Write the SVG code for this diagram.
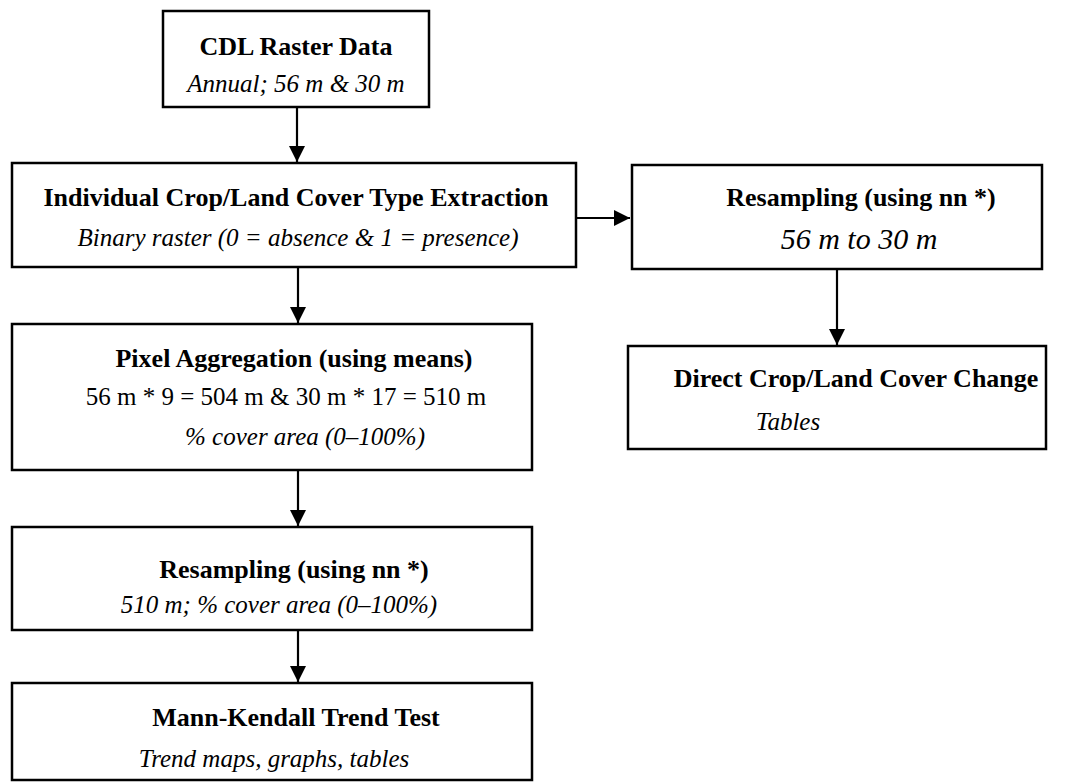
<svg xmlns="http://www.w3.org/2000/svg" width="1077" height="783" viewBox="0 0 1077 783">
<defs>
<marker id="ah" markerUnits="userSpaceOnUse" markerWidth="16" markerHeight="16" viewBox="0 0 16 16" refX="16" refY="8" orient="auto">
<path d="M0,0 L16,8 L0,16 Z" fill="#000"/>
</marker>
<style>
.box{fill:#fff;stroke:#000;stroke-width:2.5}
.t{font-family:"Liberation Serif","Times New Roman",serif;font-weight:bold;font-size:26px;fill:#000}
.s{font-family:"Liberation Serif","Times New Roman",serif;font-style:italic;font-size:25px;fill:#000}
.r{font-family:"Liberation Serif","Times New Roman",serif;font-size:25px;fill:#000}
.big{font-family:"Liberation Serif","Times New Roman",serif;font-style:italic;font-size:30px;fill:#000}
.c{stroke:#000;stroke-width:2.2;fill:none;marker-end:url(#ah)}
</style>
</defs>
<rect width="1077" height="783" fill="#fff"/>
<g id="connectors">
<line class="c" x1="297" y1="107" x2="297" y2="162"/>
<line class="c" x1="576" y1="218" x2="630" y2="218"/>
<line class="c" x1="837" y1="269" x2="837" y2="345"/>
<line class="c" x1="298" y1="267" x2="298" y2="323"/>
<line class="c" x1="298" y1="470" x2="298" y2="526"/>
<line class="c" x1="298" y1="630" x2="298" y2="682"/>
</g>
<g id="cdl">
<rect class="box" x="163" y="11" width="266" height="96"/>
<text class="t" x="296" y="55" text-anchor="middle">CDL Raster Data</text>
<text class="s" x="296" y="92" text-anchor="middle">Annual; 56 m &amp; 30 m</text>
</g>
<g id="extraction">
<rect class="box" x="12" y="163" width="564" height="104"/>
<text class="t" x="296" y="206" text-anchor="middle">Individual Crop/Land Cover Type Extraction</text>
<text class="s" x="298" y="246" text-anchor="middle">Binary raster (0 = absence &amp; 1 = presence)</text>
</g>
<g id="resample1">
<rect class="box" x="632" y="165" width="410" height="104"/>
<text class="t" x="861" y="206" text-anchor="middle">Resampling (using nn *)</text>
<text class="big" x="859" y="249" text-anchor="middle">56 m to 30 m</text>
</g>
<g id="direct">
<rect class="box" x="628" y="346" width="418" height="103"/>
<text class="t" x="856" y="387" text-anchor="middle">Direct Crop/Land Cover Change</text>
<text class="s" x="788" y="430" text-anchor="middle">Tables</text>
</g>
<g id="aggregation">
<rect class="box" x="12" y="324" width="520" height="146"/>
<text class="t" x="294" y="367" text-anchor="middle">Pixel Aggregation (using means)</text>
<text class="r" x="286" y="405" text-anchor="middle">56 m * 9 = 504 m &amp; 30 m * 17 = 510 m</text>
<text class="s" x="305" y="445" text-anchor="middle">% cover area (0–100%)</text>
</g>
<g id="resample2">
<rect class="box" x="12" y="527" width="520" height="103"/>
<text class="t" x="294" y="578" text-anchor="middle">Resampling (using nn *)</text>
<text class="s" x="279" y="613" text-anchor="middle">510 m; % cover area (0–100%)</text>
</g>
<g id="mannkendall">
<rect class="box" x="12" y="683" width="520" height="97"/>
<text class="t" x="296" y="726" text-anchor="middle">Mann-Kendall Trend Test</text>
<text class="s" x="274" y="767" text-anchor="middle">Trend maps, graphs, tables</text>
</g>
</svg>
